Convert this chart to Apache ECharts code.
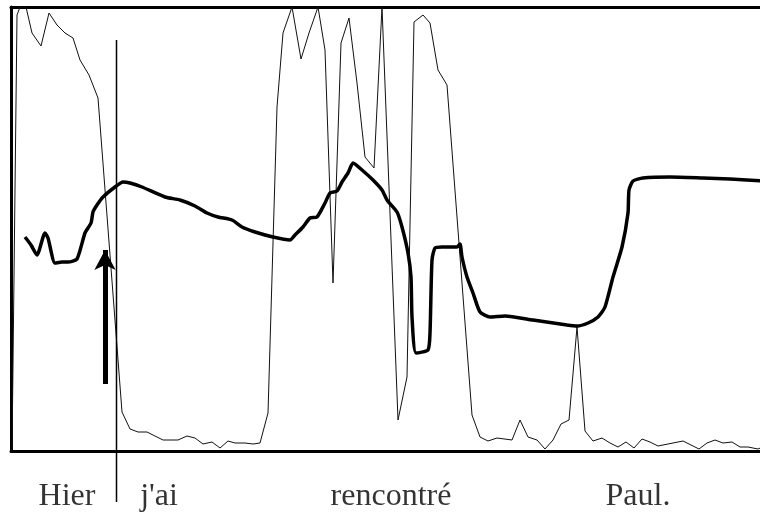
<!DOCTYPE html>
<html>
<head>
<meta charset="utf-8">
<script src="https://cdn.jsdelivr.net/npm/echarts@6/dist/echarts.min.js"></script>
<style>
  html, body { margin: 0; padding: 0; background: #fff; }
  #chart { width: 760px; height: 513px; }
</style>
</head>
<body>
<div id="chart"></div>
<script>
    // time in ms, level on a 0-444 scale
    var intensity = [
        [2, 0], [12, 436], [18, 444], [30, 444], [42, 418], [60, 405], [76, 438], [92, 426],
        [108, 418], [124, 413], [138, 391], [156, 376], [174, 353], [222, 39], [238, 22],
        [254, 19], [272, 19], [304, 11], [334, 11], [352, 15], [368, 13], [384, 7], [402, 9],
        [418, 3], [434, 10], [448, 8], [468, 8], [484, 7], [498, 8], [514, 38], [532, 344],
        [544, 418], [562, 444], [580, 392], [596, 418], [614, 444], [628, 401], [644, 168],
        [660, 408], [676, 433], [692, 368], [708, 294], [726, 283], [742, 444], [774, 31],
        [792, 74], [806, 429], [824, 436], [838, 428], [854, 381], [872, 366], [922, 36],
        [938, 14], [954, 10], [972, 13], [1002, 11], [1018, 31], [1034, 14], [1052, 11],
        [1068, 2], [1084, 11], [1100, 27], [1116, 31], [1132, 124], [1148, 20], [1164, 10],
        [1182, 13], [1198, 8], [1214, 4], [1230, 9], [1246, 3], [1262, 12], [1278, 9],
        [1294, 5], [1344, 10], [1376, 2], [1392, 8], [1408, 11], [1424, 8], [1442, 9],
        [1458, 4], [1474, 4], [1494, 2], [1508, 5]
    ];

    var pitch = [
        [28, 214], [40, 206], [52, 196], [68, 218], [74, 213], [88, 188], [102, 189], [114, 189],
        [132, 192], [148, 218], [160, 228], [164, 239], [172, 246], [184, 254], [208, 264],
        [224, 269], [238, 268], [262, 264], [308, 254], [338, 251], [368, 245], [392, 238],
        [414, 234], [442, 231], [462, 224], [488, 219], [524, 214], [558, 211], [568, 216],
        [584, 224], [598, 233], [612, 234], [628, 248], [638, 258], [652, 260], [662, 269],
        [674, 278], [684, 288], [702, 281], [724, 271], [742, 261], [752, 251], [772, 239],
        [782, 224], [794, 198], [800, 174], [802, 134], [810, 98], [834, 101], [838, 118],
        [842, 191], [848, 203], [862, 204], [892, 204], [898, 207], [902, 194], [912, 174],
        [924, 158], [938, 139], [958, 134], [988, 135], [1044, 131], [1112, 126], [1132, 125],
        [1154, 128], [1174, 134], [1188, 144], [1204, 174], [1222, 204], [1234, 238],
        [1236, 261], [1244, 270], [1264, 273], [1318, 274], [1384, 273], [1438, 272], [1508, 270]
    ];

    var words = ['Hier', "j'ai", 'rencontré', 'Paul.'];
    var wordTimes = [112, 296, 760, 1254];

    var boundaryLine = [[211, 411], [211, -51]];
    var arrowTime = 188;
    var arrowFrom = 67;
    var arrowTo = 201;

    var serif = '"Liberation Serif", "Times New Roman", serif';
    var frameLine = { show: true, onZero: false, lineStyle: { color: '#000', width: 3 } };

    var chart = echarts.init(document.getElementById('chart'));
    chart.setOption({
        animation: false,
        grid: { left: 11, top: 7, right: 0, bottom: 62 },
        xAxis: [
            { type: 'value', min: 0, max: 1498, position: 'bottom', axisLine: frameLine,
              axisTick: { show: false }, axisLabel: { show: false }, splitLine: { show: false } },
            { type: 'value', min: 0, max: 1498, position: 'top', axisLine: frameLine,
              axisTick: { show: false }, axisLabel: { show: false }, splitLine: { show: false } }
        ],
        yAxis: {
            type: 'value', min: 0, max: 444, axisLine: frameLine,
            axisTick: { show: false }, axisLabel: { show: false }, splitLine: { show: false }
        },
        series: [
            {
                type: 'line',
                data: intensity,
                symbol: 'none',
                lineStyle: { color: '#111', width: 1 },
                markLine: {
                    silent: true,
                    label: { show: false },
                    lineStyle: { color: '#000', width: 5, type: 'solid' },
                    symbol: ['none', 'arrow'],
                    symbolSize: [16, 20],
                    data: [[
                        { coord: [arrowTime, arrowFrom] },
                        { coord: [arrowTime, arrowTo] }
                    ]]
                }
            },
            {
                type: 'line',
                data: pitch,
                symbol: 'none',
                smooth: 0.2,
                lineStyle: { color: '#000', width: 3.5 }
            },
            {
                type: 'line',
                data: boundaryLine,
                symbol: 'none',
                clip: false,
                lineStyle: { color: '#000', width: 1.5 }
            },
            {
                type: 'scatter',
                clip: false,
                symbolSize: 0,
                data: wordTimes.map(function (t, i) { return { value: [t, -46], name: words[i] }; }),
                label: {
                    show: true,
                    position: 'inside',
                    formatter: '{b}',
                    color: '#000',
                    fontFamily: serif,
                    fontSize: 32
                }
            }
        ]
    });
</script>
</body>
</html>
